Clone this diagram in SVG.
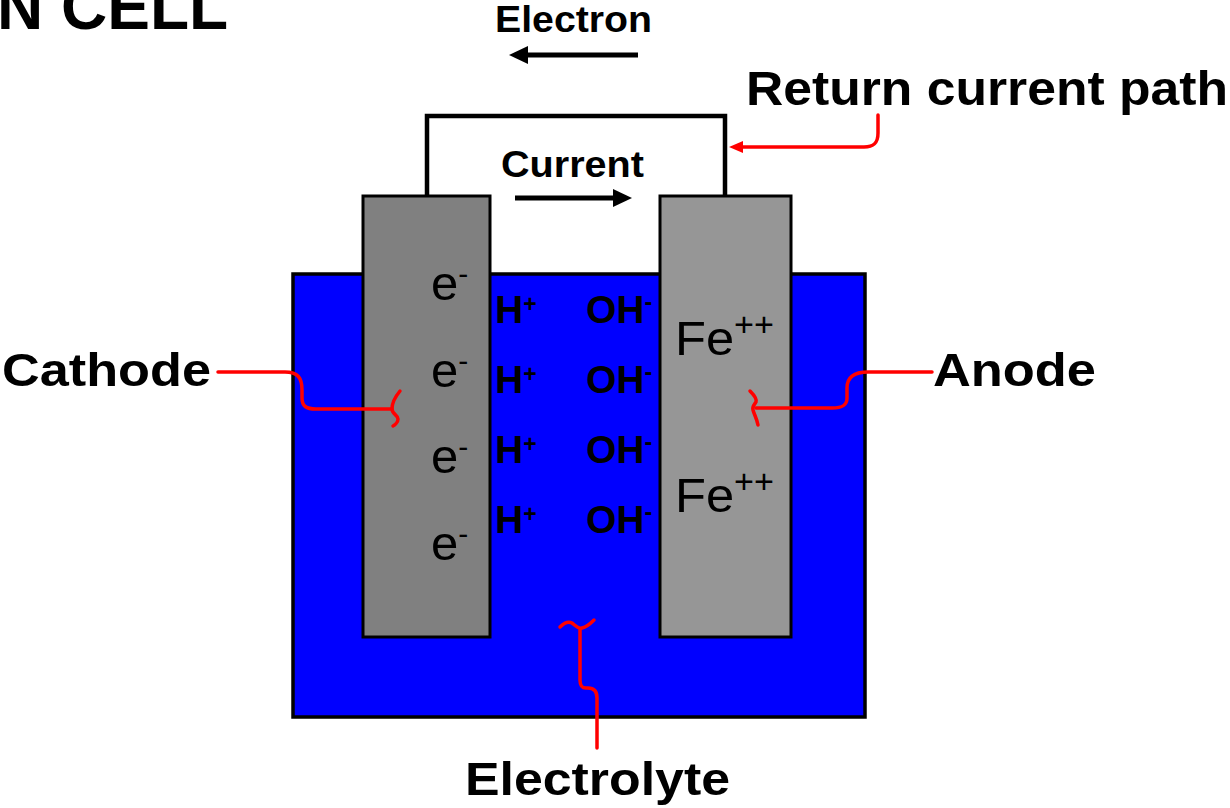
<svg xmlns="http://www.w3.org/2000/svg" width="1230" height="808" viewBox="0 0 1230 808">
  <defs>
    <style>
      .lbl { font-family: "Liberation Sans", Arial, sans-serif; font-weight: bold; fill: #000; }
      .ion { font-family: "Liberation Sans", Arial, sans-serif; fill: #000; }
      .ionb { font-family: "Liberation Sans", Arial, sans-serif; font-weight: bold; fill: #000; }
      .red { fill: none; stroke: #ff0000; stroke-width: 3.5; stroke-linecap: round; stroke-linejoin: round; }
      .blk { fill: none; stroke: #000; stroke-width: 5; }
    </style>
  </defs>
  <rect width="1230" height="808" fill="#ffffff"/>

  <g id="title">
    <text class="lbl" x="-3" y="29" font-size="64">N CELL</text>
  </g>

  <g id="electrolyte-bath">
    <rect x="293" y="274" width="572" height="443" fill="#0000ff" stroke="#000" stroke-width="3.5"/>
  </g>

  <g id="wire">
    <path d="M427,197 V116 H725 V197" fill="none" stroke="#000" stroke-width="4.5"/>
  </g>

  <g id="cathode">
    <rect x="363" y="196" width="127" height="441" fill="#808080" stroke="#000" stroke-width="3"/>
    <text class="ion" x="431" y="300" font-size="49">e<tspan dy="-16" font-size="30">-</tspan></text>
    <text class="ion" x="431" y="387" font-size="49">e<tspan dy="-16" font-size="30">-</tspan></text>
    <text class="ion" x="431" y="473" font-size="49">e<tspan dy="-16" font-size="30">-</tspan></text>
    <text class="ion" x="431" y="560" font-size="49">e<tspan dy="-16" font-size="30">-</tspan></text>
  </g>

  <g id="anode">
    <rect x="660" y="196" width="131" height="441" fill="#969696" stroke="#000" stroke-width="3"/>
    <text class="ion" x="675" y="355" font-size="49" textLength="99" lengthAdjust="spacingAndGlyphs">Fe<tspan dy="-19" font-size="33">++</tspan></text>
    <text class="ion" x="675" y="512" font-size="49" textLength="99" lengthAdjust="spacingAndGlyphs">Fe<tspan dy="-19" font-size="33">++</tspan></text>
  </g>

  <g id="ions">
    <text class="ionb" x="495" y="323" font-size="39">H<tspan dy="-11" font-size="23">+</tspan></text>
    <text class="ionb" x="495" y="393" font-size="39">H<tspan dy="-11" font-size="23">+</tspan></text>
    <text class="ionb" x="495" y="463" font-size="39">H<tspan dy="-11" font-size="23">+</tspan></text>
    <text class="ionb" x="495" y="533" font-size="39">H<tspan dy="-11" font-size="23">+</tspan></text>
    <text class="ionb" x="586" y="323" font-size="39">OH<tspan dy="-13" font-size="23">-</tspan></text>
    <text class="ionb" x="586" y="393" font-size="39">OH<tspan dy="-13" font-size="23">-</tspan></text>
    <text class="ionb" x="586" y="463" font-size="39">OH<tspan dy="-13" font-size="23">-</tspan></text>
    <text class="ionb" x="586" y="533" font-size="39">OH<tspan dy="-13" font-size="23">-</tspan></text>
  </g>

  <g id="electron-flow">
    <text class="lbl" x="495" y="32" font-size="37" textLength="157" lengthAdjust="spacingAndGlyphs">Electron</text>
    <line x1="638" y1="55" x2="524" y2="55" class="blk"/>
    <polygon points="509,55 528,46 528,64" fill="#000"/>
  </g>

  <g id="current-flow">
    <text class="lbl" x="501" y="177" font-size="36" textLength="143" lengthAdjust="spacingAndGlyphs">Current</text>
    <line x1="515" y1="198" x2="616" y2="198" class="blk"/>
    <polygon points="632,198 613,189 613,207" fill="#000"/>
  </g>

  <g id="label-return">
    <text class="lbl" x="746" y="105" font-size="49" textLength="482" lengthAdjust="spacingAndGlyphs">Return current path</text>
  </g>
  <g id="label-cathode">
    <text class="lbl" x="2" y="386" font-size="47" textLength="209" lengthAdjust="spacingAndGlyphs">Cathode</text>
  </g>
  <g id="label-anode">
    <text class="lbl" x="933" y="386" font-size="47" textLength="163" lengthAdjust="spacingAndGlyphs">Anode</text>
  </g>
  <g id="label-electrolyte">
    <text class="lbl" x="465" y="795" font-size="46" textLength="265" lengthAdjust="spacingAndGlyphs">Electrolyte</text>
  </g>

  <g id="connectors">
    <!-- return current path -->
    <path class="red" d="M878,115 V133 C878,143 874,147 864,147 H742"/>
    <polygon points="729,147 743,141 743,153" fill="#ff0000"/>
    <!-- cathode -->
    <path class="red" d="M218,372 H285 C298,372 302,378 302,390 V398 C302,406 306,409 316,409 H392"/>
    <path class="red" d="M400,391 C395,397 392,403 392,409 C392,414 398,415 398,419 C398,422 395,425 393,426"/>
    <!-- anode -->
    <path class="red" d="M932,372 H868 C853,372 847,378 847,388 V398 C847,405 843,408 832,408 H756"/>
    <path class="red" d="M750,391 C754,395 757,399 756,402 C754,405 752,407 753,410 C754,414 757,419 758,425"/>
    <!-- electrolyte -->
    <path class="red" d="M597,748 V698 C597,691 594,688 588,688 H586 C582,688 580,686 580,680 V629"/>
    <path class="red" d="M560,627 C564,623 568,621 572,623 C576,626 578,629 582,628 C587,627 591,623 594,620"/>
  </g>
</svg>
